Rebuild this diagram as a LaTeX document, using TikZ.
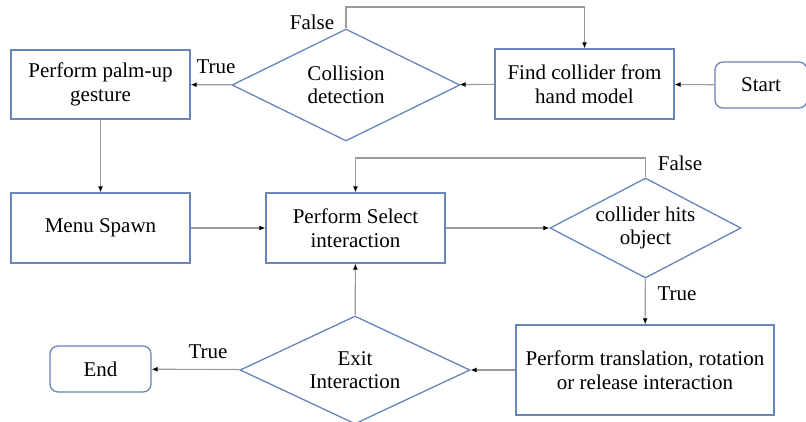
\documentclass[tikz,border=0pt]{standalone}
\usepackage{fontspec}
\setmainfont{Liberation Serif}
\usetikzlibrary{shapes.geometric,arrows.meta}
\definecolor{bord}{RGB}{104,132,184}
\definecolor{ln}{RGB}{155,155,155}
\begin{document}
\begin{tikzpicture}[x=1pt,y=-1pt,
  every node/.style={font=\rmfamily\fontsize{21}{23.5}\selectfont},
  box/.style={draw=bord,line width=1.3pt,rectangle,inner sep=0pt,align=center},
  rbox/.style={box,rounded corners=8pt},
  dia/.style={draw=bord,line width=1.3pt,diamond,inner sep=0pt},
  txt/.style={inner sep=0pt,align=center},
  arr/.style={draw=ln,line width=1.1pt,-{Latex[black,length=6pt,width=5pt]}},
  lab/.style={inner sep=0pt}]
\useasboundingbox (0,0) rectangle (806,421);
\node[box,minimum width=179pt,minimum height=69pt] (palm) at (100.5,84.5) {Perform palm-up\\gesture};
\node[dia,minimum width=228pt,minimum height=112pt] (coll) at (346,85) {};
\node[txt] (colltxt) at (coll) {Collision\\detection};
\node[box,minimum width=179pt,minimum height=70pt] (find) at (584.5,84) {Find collider from\\hand model};
\node[rbox,minimum width=92pt,minimum height=46pt] (start) at (761,85) {Start};
\node[box,minimum width=179pt,minimum height=70pt] (menu) at (100.5,228) {Menu Spawn};
\node[box,minimum width=179pt,minimum height=70pt] (sel) at (355.5,228) {Perform Select\\interaction};
\node[dia,minimum width=191pt,minimum height=100pt] (hit) at (645.5,228) {};
\node[txt] (hittxt) at (hit) {collider hits\\object};
\node[box,minimum width=258pt,minimum height=90pt] (trans) at (645,370) {Perform translation, rotation\\or release interaction};
\node[dia,minimum width=230pt,minimum height=108pt] (exit) at (355,370) {};
\node[txt] (exittxt) at (exit) {Exit\\Interaction};
\node[rbox,minimum width=101pt,minimum height=46pt] (end) at (100.5,369) {End};
\coordinate (t1) at (346,7);
\coordinate (t2) at (645.5,158);
\draw[arr] (start) -- (find);
\draw[arr] (find) -- (coll);
\draw[arr] (coll) -- (palm);
\draw[arr] (coll.north) -- (t1) -| (find.north);
\draw[arr] (palm) -- (menu);
\draw[arr] (menu) -- (sel);
\draw[arr] (sel) -- (hit);
\draw[arr] (hit.north) -- (t2) -| (sel.north);
\draw[arr] (hit) -- (trans);
\draw[arr] (trans) -- (exit);
\draw[arr] (exit) -- (sel);
\draw[arr] (exit) -- (end);
\node[lab] (f1) at (312,22) {False};
\node[lab] (tr1) at (216,67) {True};
\node[lab] (f2) at (680,163) {False};
\node[lab] (tr2) at (677,294) {True};
\node[lab] (tr3) at (208,352) {True};
\end{tikzpicture}
\end{document}
